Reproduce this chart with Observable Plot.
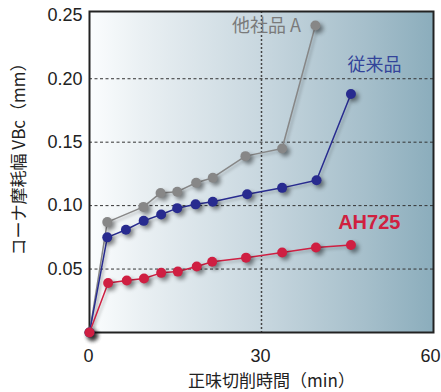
<!DOCTYPE html>
<html><head><meta charset="utf-8">
<script src="https://cdn.jsdelivr.net/npm/d3@7"></script>
<script src="https://cdn.jsdelivr.net/npm/@observablehq/plot@0.6"></script>
<style>
body{margin:0;background:#fff;}
g[aria-label="dot"] circle{filter:drop-shadow(3px 3px 2px rgba(0,0,0,0.45));}
g[aria-label="line"] path{filter:drop-shadow(2px 2px 1.5px rgba(0,0,0,0.25));}
</style></head><body><div id="chart"></div>
<script>
const seriesNames = ["他社品 A", "従来品", "AH725"];
const seriesColors = ["#878787", "#282b8f", "#cf1f42"];
const labelColors = ["#7a7a7a", "#33449a", "#d0203f"];

const timeA = [0, 3.1, 9.4, 12.4, 15.3, 18.6, 21.5, 27.2, 33.6, 39.4];
const wearA = [0, 0.087, 0.099, 0.110, 0.111, 0.118, 0.122, 0.139, 0.145, 0.242];

const timeB = [0, 3.1, 6.35, 9.45, 12.5, 15.3, 18.5, 21.5, 27.5, 33.6, 39.6, 45.6];
const wearB = [0, 0.075, 0.081, 0.088, 0.093, 0.098, 0.101, 0.103, 0.109, 0.114, 0.120, 0.188];

const timeC = [0, 3.25, 6.5, 9.5, 12.5, 15.4, 18.7, 21.4, 27.3, 33.6, 39.5, 45.6];
const wearC = [0, 0.039, 0.041, 0.0425, 0.047, 0.048, 0.052, 0.0557, 0.059, 0.063, 0.067, 0.069];

const xTicksInner = [0, 30];
const xTicksEdge = [60];
const yTicks = [0.05, 0.10, 0.15, 0.20, 0.25];
const gridY = [0.05, 0.10, 0.15, 0.20];
const gridX = [30];
const xTitle = "正味切削時間（min）";
const yTitle = "コーナ摩耗幅 VBc（mm）";

const times = [timeA, timeB, timeC];
const wears = [wearA, wearB, wearC];
const rows = [];
seriesNames.forEach((s, i) => times[i].forEach((t, j) => rows.push({series: s, t, w: wears[i][j]})));

const jp = "'Noto Sans CJK JP', sans-serif";
const lat = "'Liberation Sans', Arial, sans-serif";

const chart = Plot.plot({
  width: 441,
  height: 392,
  marginTop: 11,
  marginBottom: 60,
  marginLeft: 89,
  marginRight: 8,
  style: {fontFamily: lat, fontSize: "18px", color: "#222", background: "#fff"},
  x: {domain: [0, 60], label: null},
  y: {domain: [0, 0.253], label: null},
  color: {domain: seriesNames, range: seriesColors},
  marks: [
    Plot.frame({fill: "url(#bgGrad)", stroke: null}),
    Plot.ruleY(gridY, {stroke: "#333", strokeDasharray: "3,2.5", strokeWidth: 1}),
    Plot.ruleX(gridX, {stroke: "#444", strokeDasharray: "2,2", strokeWidth: 1.5}),
    Plot.frame({stroke: "#222", strokeWidth: 2}),
    Plot.axisY({ticks: yTicks, tickSize: 0, tickPadding: 7, tickFormat: d3.format(".2f"), label: null, fontSize: 18}),
    Plot.axisX({ticks: xTicksInner, tickSize: 0, tickPadding: 17, label: null, fontSize: 18, dx: -1}),
    Plot.axisX({ticks: xTicksEdge, tickSize: 0, tickPadding: 17, label: null, fontSize: 18, dx: -3}),
    Plot.line(rows, {x: "t", y: "w", z: "series", stroke: "series", strokeWidth: 1.5}),
    Plot.dot(rows, {x: "t", y: "w", fill: "series", r: 5}),
    Plot.text([seriesNames[0]], {x: 36.9, y: 0.241, text: d => d, textAnchor: "end", fill: labelColors[0], fontSize: 18, fontFamily: jp}),
    Plot.text([seriesNames[1]], {x: 49.7, y: 0.211, text: d => d, fill: labelColors[1], fontSize: 18, fontFamily: jp}),
    Plot.text([seriesNames[2]], {x: 48.8, y: 0.0866, text: d => d, fill: labelColors[2], fontSize: 20, fontWeight: "bold", fontFamily: lat}),
    Plot.text([xTitle], {frameAnchor: "bottom", textAnchor: "middle", lineAnchor: "middle", dx: 10, dy: 49, text: d => d, fontSize: 17, fill: "#222", fontFamily: jp}),
    Plot.text([yTitle], {frameAnchor: "left", textAnchor: "middle", lineAnchor: "middle", dx: -70, dy: -17, rotate: -90, text: d => d, fontSize: 17, fill: "#222", fontFamily: jp})
  ]
});

const svgNS = "http://www.w3.org/2000/svg";
const defs = document.createElementNS(svgNS, "defs");
defs.innerHTML = `<linearGradient id="bgGrad" x1="0" y1="0" x2="1" y2="0">
  <stop offset="0" stop-color="#fbfdfe"/>
  <stop offset="0.15" stop-color="#eaf0f3"/>
  <stop offset="0.5" stop-color="#c8d7df"/>
  <stop offset="0.8" stop-color="#a6bfcb"/>
  <stop offset="1" stop-color="#8badbc"/>
</linearGradient>`;
chart.insertBefore(defs, chart.firstChild);
document.getElementById("chart").appendChild(chart);
</script></body></html>
